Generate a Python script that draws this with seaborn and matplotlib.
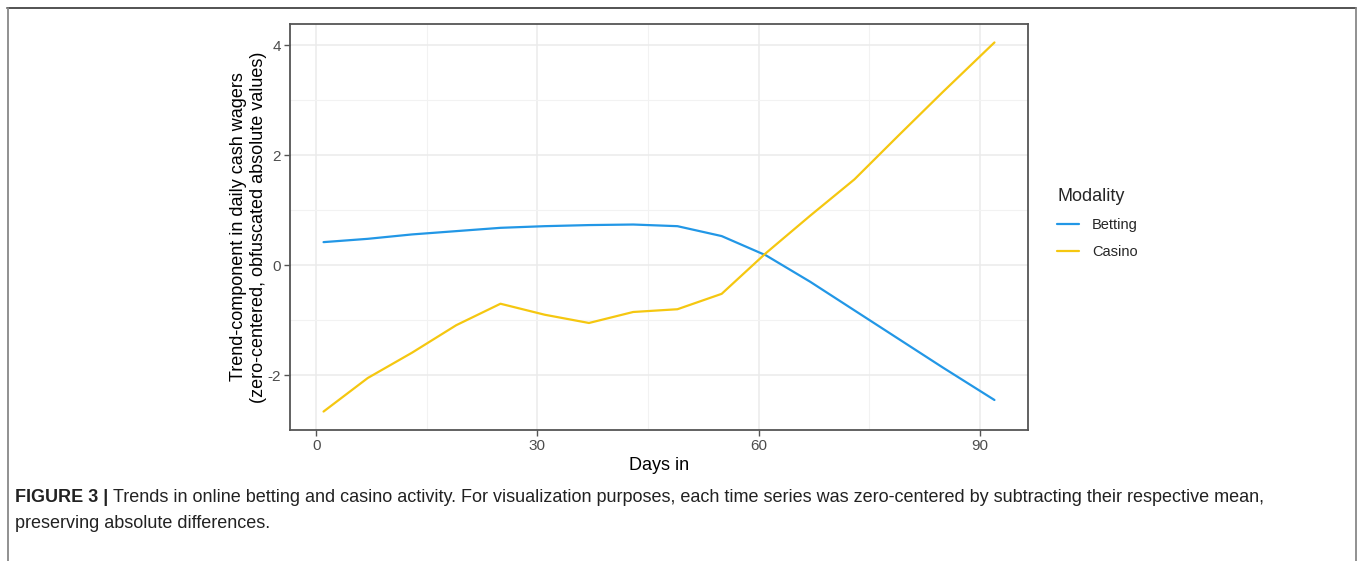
import numpy as np
import pandas as pd
import matplotlib
matplotlib.use("Agg")
import matplotlib.pyplot as plt
from matplotlib.lines import Line2D
from matplotlib.ticker import MultipleLocator
import seaborn as sns

# ---- data ----
days = [1, 7, 13, 19, 25, 31, 37, 43, 49, 55, 61, 67, 73, 79, 85, 92]
betting = [0.42, 0.48, 0.56, 0.62, 0.68, 0.71, 0.73, 0.74, 0.71, 0.53,
           0.18, -0.30, -0.82, -1.34, -1.86, -2.45]
casino = [-2.66, -2.05, -1.59, -1.09, -0.70, -0.90, -1.05, -0.85, -0.80, -0.52,
          0.22, 0.90, 1.56, 2.36, 3.15, 4.05]
modalities = ["Betting", "Casino"]
colors = {"Betting": "#2297E6", "Casino": "#F5C710"}
x_ticks = [0, 30, 60, 90]
y_ticks = [-2, 0, 2, 4]

df = pd.DataFrame({
    "day": days * 2,
    "value": betting + casino,
    "Modality": ["Betting"] * len(days) + ["Casino"] * len(days),
})

sns.set_theme(style="white")
plt.rcParams["font.family"] = ["Liberation Sans", "DejaVu Sans"]
plt.rcParams["axes.unicode_minus"] = False

W, H = 1358, 561
fig = plt.figure(figsize=(W / 100, H / 100), dpi=100)
ax = fig.add_axes([290 / W, 1 - 430 / H, (1028 - 290) / W, (430 - 24) / H])

sns.lineplot(data=df, x="day", y="value", hue="Modality", hue_order=modalities,
             palette=colors, linewidth=1.6, ax=ax, legend=False,
             estimator=None, sort=False)

xr = max(days) - min(days)
ax.set_xlim(min(days) - 0.05 * xr, max(days) + 0.05 * xr)
allv = betting + casino
yr = max(allv) - min(allv)
ax.set_ylim(min(allv) - 0.05 * yr, max(allv) + 0.05 * yr)

ax.set_xticks(x_ticks)
ax.set_yticks(y_ticks)
ax.xaxis.set_minor_locator(MultipleLocator(15))
ax.yaxis.set_minor_locator(MultipleLocator(1))
ax.grid(True, which="major", color="#EBEBEB", linewidth=1.1)
ax.grid(True, which="minor", color="#F2F2F2", linewidth=0.8)
ax.set_axisbelow(True)
for s in ax.spines.values():
    s.set_color("#555555")
    s.set_linewidth(1.3)
ax.tick_params(axis="both", which="major", length=4, width=1.0, color="#555555",
               labelsize=11, labelcolor="#4D4D4D", pad=2.5, direction="out",
               bottom=True, left=True)
ax.tick_params(axis="both", which="minor", length=0)

ax.set_xlabel("Days in", fontsize=13, color="black", labelpad=3)
ax.set_ylabel("Trend-component in daily cash wagers\n(zero-centered, obfuscated absolute values)",
              fontsize=13, color="black", labelpad=0, linespacing=1.3)

# legend
handles = [Line2D([0], [0], color=colors[m], linewidth=1.6) for m in modalities]
leg = fig.legend(handles, modalities, title="Modality", loc="upper left",
                 bbox_to_anchor=(1044 / W, 1 - 175 / H), frameon=False,
                 fontsize=10.5, title_fontsize=13, handlelength=1.5,
                 labelspacing=0.9, handletextpad=0.9, alignment="left")

# figure frame (top, left, right)
fig.add_artist(Line2D([7 / W, 1356 / W], [1 - 8 / H, 1 - 8 / H], transform=fig.transFigure,
                      color="#444444", linewidth=1.3))
fig.add_artist(Line2D([7.5 / W, 7.5 / W], [0, 1 - 8 / H], transform=fig.transFigure,
                      color="#888888", linewidth=1.3))
fig.add_artist(Line2D([1356 / W, 1356 / W], [0, 1 - 8 / H], transform=fig.transFigure,
                      color="#888888", linewidth=1.3))

# caption
fig.canvas.draw()
r = fig.canvas.get_renderer()
t1 = fig.text(15 / W, 1 - 497 / H, "FIGURE 3 |", fontsize=13, fontweight="bold",
              va="center", ha="left", color="#222222")
bb = t1.get_window_extent(renderer=r)
fig.text((bb.x1 + 5) / W, 1 - 497 / H,
         "Trends in online betting and casino activity. For visualization purposes, each time series was zero-centered by subtracting their respective mean,",
         fontsize=13, va="center", ha="left", color="#222222")
fig.text(15 / W, 1 - 523 / H, "preserving absolute differences.", fontsize=13,
         va="center", ha="left", color="#222222")

fig.savefig("out.png", dpi=100)
